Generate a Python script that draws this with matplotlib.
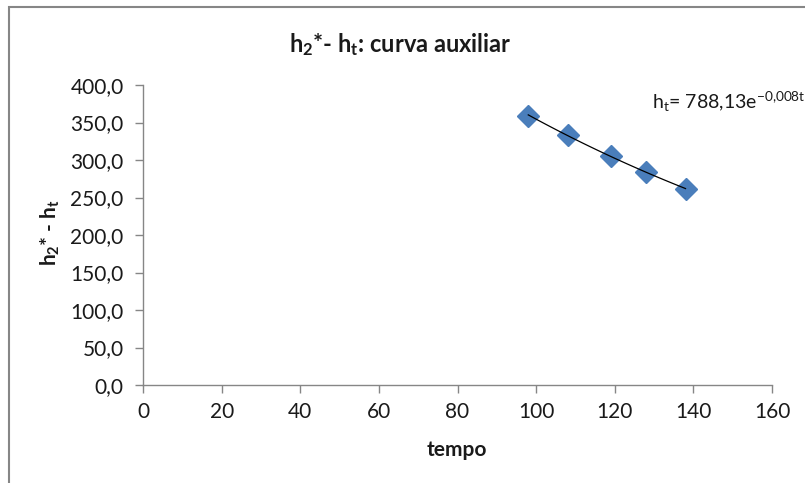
import matplotlib
matplotlib.use("Agg")
import matplotlib.pyplot as plt
import numpy as np
from matplotlib.ticker import FuncFormatter, MultipleLocator
from matplotlib.patches import Rectangle

# valores
tempo = [98, 108, 119, 128, 138]
dif = [359.0, 333.0, 306.0, 284.0, 261.0]

plt.rcParams['font.family'] = ['Lato', 'DejaVu Sans']
plt.rcParams['mathtext.fontset'] = 'custom'
plt.rcParams['mathtext.rm'] = 'Lato'
plt.rcParams['mathtext.bf'] = 'Lato:bold'
plt.rcParams['mathtext.it'] = 'Lato:italic'
plt.rcParams['mathtext.default'] = 'regular'

fig = plt.figure(figsize=(8.05, 4.83), dpi=100)
ax = fig.add_axes([143 / 805, 1 - 385 / 483, (772 - 143) / 805, 300 / 483])

grey = '#868686'
txt = '#1a1a1a'

# linha de tendencia exponencial ajustada aos pontos
t = np.array(tempo, dtype=float)
b, ln_a = np.polyfit(t, np.log(dif), 1)
tt = np.linspace(t.min(), t.max(), 50)
ax.plot(tt, np.exp(ln_a) * np.exp(b * tt), color='black', lw=0.9, zorder=3)

ax.plot(tempo, dif, linestyle='none', marker='D', markersize=11,
        color='#4a7ebb', markeredgecolor='#4a7ebb', zorder=2)

ax.set_xlim(0, 160)
ax.set_ylim(0, 400)
ax.xaxis.set_major_locator(MultipleLocator(20))
ax.yaxis.set_major_locator(MultipleLocator(50))
ax.yaxis.set_major_formatter(FuncFormatter(lambda v, p: f"{v:.1f}".replace('.', ',')))

for s in ['top', 'right']:
    ax.spines[s].set_visible(False)
for s in ['left', 'bottom']:
    ax.spines[s].set_color(grey)
    ax.spines[s].set_linewidth(1.0)
ax.tick_params(colors=grey, labelcolor=txt, labelsize=15, length=6, width=1.0)
ax.tick_params(axis='x', pad=6)
ax.tick_params(axis='y', pad=8)

fig.text(457 / 805, 1 - 450 / 483, 'tempo', ha='center', va='center',
         fontsize=15, fontweight='bold', color=txt)
fig.text(50 / 805, 1 - 232 / 483, r'$\mathbf{h_2}$* - $\mathbf{h_t}$', ha='center',
         va='center', rotation=90, fontsize=15, fontweight='bold', color=txt)

fig.text(400 / 805, 1 - 45 / 483, r'$\mathbf{h_2}$*- $\mathbf{h_t}$: curva auxiliar',
         ha='center', va='center', fontsize=17, fontweight='bold', color=txt)

# equacao da linha de tendencia (encostada na borda, como no original)
fig.text(652 / 805, 1 - 102 / 483, r'h$_t$= 788,13e$^{-0{,}008t}$', ha='left',
         va='center', fontsize=14, color=txt)

# moldura do grafico (cortada a direita e embaixo)
fig.patches.append(Rectangle((8.5 / 805, -0.1), 1.2, 1.1 - 7.5 / 483, transform=fig.transFigure,
                             fill=False, edgecolor=grey, linewidth=1.5, zorder=10))

fig.savefig('out.png', dpi=100)
